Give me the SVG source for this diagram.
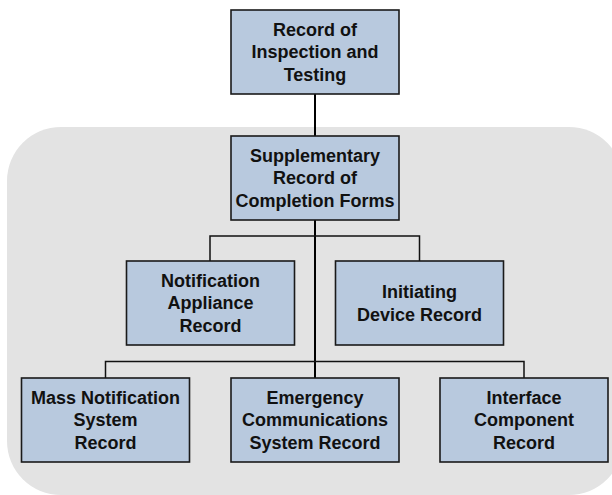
<svg xmlns="http://www.w3.org/2000/svg" width="612" height="495" viewBox="0 0 612 495">
<style>
.box{fill:#B8C9DE;stroke:#1a1a1a;stroke-width:1.6}
.lbl{font-family:"Liberation Sans",Arial,sans-serif;font-weight:bold;font-size:18px;fill:#111;text-anchor:middle}
.ln{stroke:#111;stroke-width:1.5;fill:none}
.main{stroke:#000;stroke-width:2;fill:none}
</style>
<rect width="612" height="495" fill="#fff"/>
<rect id="group-bg" x="7" y="127" width="616" height="368" rx="54" ry="54" fill="#E3E3E3"/>
<g id="connectors">
<line class="main" x1="315" y1="94" x2="315" y2="136"/>
<line class="main" x1="315" y1="220" x2="315" y2="378"/>
<polyline class="ln" points="210,261 210,236 419.5,236 419.5,261"/>
<polyline class="ln" points="105.5,378 105.5,361.5 524,361.5 524,378"/>
</g>
<g id="n-top">
<rect class="box" x="231" y="10" width="168" height="84"/>
<text class="lbl" x="315" y="35.5">Record of</text>
<text class="lbl" x="315" y="58">Inspection and</text>
<text class="lbl" x="315" y="80.5">Testing</text>
</g>
<g id="n-supp">
<rect class="box" x="231" y="136" width="168" height="84"/>
<text class="lbl" x="315" y="161.5">Supplementary</text>
<text class="lbl" x="315" y="184">Record of</text>
<text class="lbl" x="315" y="206.5">Completion Forms</text>
</g>
<g id="n-notif">
<rect class="box" x="126.5" y="261" width="168" height="84"/>
<text class="lbl" x="210.5" y="286.5">Notification</text>
<text class="lbl" x="210.5" y="309">Appliance</text>
<text class="lbl" x="210.5" y="331.5">Record</text>
</g>
<g id="n-init">
<rect class="box" x="335.5" y="261" width="168" height="84"/>
<text class="lbl" x="419.5" y="298">Initiating</text>
<text class="lbl" x="419.5" y="320.5">Device Record</text>
</g>
<g id="n-mass">
<rect class="box" x="21.5" y="378" width="168" height="84"/>
<text class="lbl" x="105.5" y="403.5">Mass Notification</text>
<text class="lbl" x="105.5" y="426">System</text>
<text class="lbl" x="105.5" y="448.5">Record</text>
</g>
<g id="n-ecs">
<rect class="box" x="231" y="378" width="168" height="84"/>
<text class="lbl" x="315" y="403.5">Emergency</text>
<text class="lbl" x="315" y="426">Communications</text>
<text class="lbl" x="315" y="448.5">System Record</text>
</g>
<g id="n-iface">
<rect class="box" x="440" y="378" width="168" height="84"/>
<text class="lbl" x="524" y="403.5">Interface</text>
<text class="lbl" x="524" y="426">Component</text>
<text class="lbl" x="524" y="448.5">Record</text>
</g>
</svg>
